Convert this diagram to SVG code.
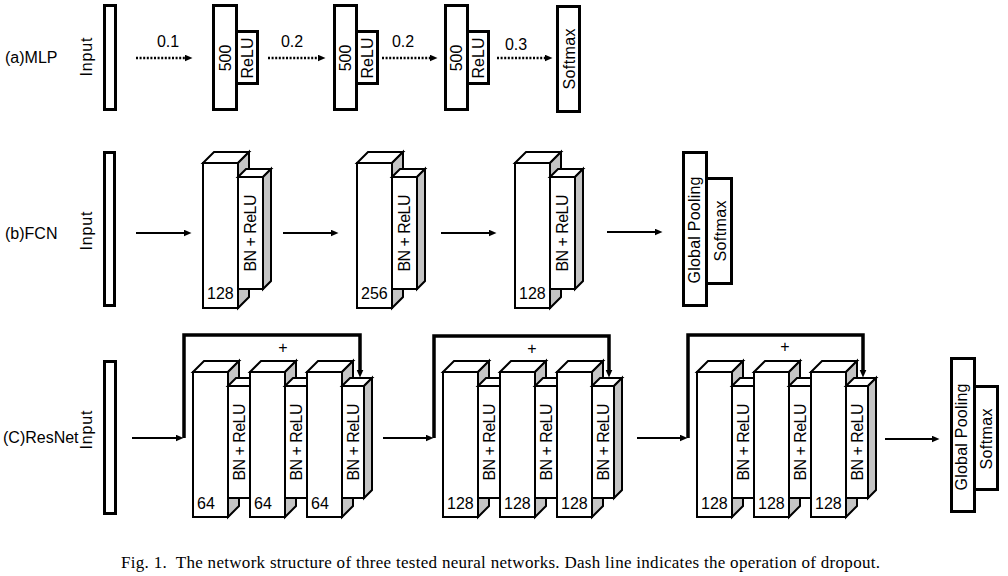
<svg xmlns="http://www.w3.org/2000/svg" xmlns:xlink="http://www.w3.org/1999/xlink" width="1008" height="576" viewBox="0 0 1008 576">
<style>
.t{font-family:"Liberation Sans",Arial,sans-serif;font-size:16px;fill:#000}
.m{text-anchor:middle}
.cap{font-family:"Liberation Serif","Times New Roman",serif;font-size:17px;fill:#000}
.box{fill:#fff;stroke:#000;stroke-width:3}
.cf{fill:#fff;stroke:#000;stroke-width:2;stroke-linejoin:miter}
.cs{fill:#c4c4c4;stroke:#000;stroke-width:2;stroke-linejoin:miter}
.ar{fill:none;stroke:#000;stroke-width:2}
.dot{fill:none;stroke:#000;stroke-width:2.5;stroke-dasharray:2 1.6}
.loop{fill:none;stroke:#000;stroke-width:3.5;stroke-linejoin:miter}
</style>
<defs>
<marker id="ah" markerUnits="userSpaceOnUse" markerWidth="10" markerHeight="8" refX="0.5" refY="3.5" orient="auto">
<path d="M0,0 L8,3.5 L0,7 Z" fill="#000"/>
</marker>
<g id="cubeMain">
<rect class="cf" x="0" y="0" width="35" height="145"/>
<polygon class="cf" points="0,0 11,-11 46,-11 35,0"/>
<polygon class="cs" points="35,0 46,-11 46,134 35,145"/>
</g>
<g id="cubeBnF">
<rect class="cf" x="0" y="0" width="25" height="112"/>
<polygon class="cf" points="0,0 8,-8 33,-8 25,0"/>
<polygon class="cs" points="25,0 33,-8 33,104 25,112"/>
</g>
<g id="cubeBnR">
<rect class="cf" x="0" y="0" width="22" height="112"/>
<polygon class="cf" points="0,0 8,-8 30,-8 22,0"/>
<polygon class="cs" points="22,0 30,-8 30,104 22,112"/>
</g>
</defs>
<rect width="1008" height="576" fill="#fff"/>

<!-- Row labels -->
<text class="t" x="5" y="63">(a)MLP</text>
<text class="t" x="5" y="239">(b)FCN</text>
<text class="t" x="3" y="443">(C)ResNet</text>

<!-- MLP -->
<g id="mlp-input">
<rect class="box" x="104.5" y="5.5" width="11" height="104"/>
<text class="t m" transform="translate(92,57) rotate(-90)" textLength="39">Input</text>
</g>
<g id="mlp-dense1">
<rect class="box" x="213.5" y="5.5" width="23" height="104"/>
<rect class="box" x="236.5" y="31.5" width="21" height="52"/>
<text class="t m" transform="translate(231,58) rotate(-90)">500</text>
<text class="t m" transform="translate(253,58) rotate(-90)">ReLU</text>
</g>
<g id="mlp-dense2">
<rect class="box" x="334.5" y="5.5" width="22" height="104"/>
<rect class="box" x="356.5" y="31.5" width="21" height="52"/>
<text class="t m" transform="translate(351,58) rotate(-90)">500</text>
<text class="t m" transform="translate(373,58) rotate(-90)">ReLU</text>
</g>
<g id="mlp-dense3">
<rect class="box" x="445.5" y="5.5" width="22" height="104"/>
<rect class="box" x="467.5" y="31.5" width="21" height="52"/>
<text class="t m" transform="translate(462,58) rotate(-90)">500</text>
<text class="t m" transform="translate(484,58) rotate(-90)">ReLU</text>
</g>
<g id="mlp-softmax">
<rect class="box" x="557.5" y="6.5" width="22" height="105"/>
<text class="t m" transform="translate(575,59) rotate(-90)" textLength="61">Softmax</text>
</g>

<!-- FCN -->
<g id="fcn-input">
<rect class="box" x="104.5" y="152.5" width="10" height="153"/>
<text class="t m" transform="translate(92,231) rotate(-90)" textLength="39">Input</text>
</g>
<g id="fcn-conv1">
<use xlink:href="#cubeMain" x="203" y="163"/>
<text class="t" x="207" y="299">128</text>
</g>
<g id="fcn-bn1">
<use xlink:href="#cubeBnF" x="238" y="177"/>
<text class="t m" transform="translate(256,233) rotate(-90)" textLength="77">BN + ReLU</text>
</g>
<g id="fcn-conv2">
<use xlink:href="#cubeMain" x="357" y="163"/>
<text class="t" x="361" y="299">256</text>
</g>
<g id="fcn-bn2">
<use xlink:href="#cubeBnF" x="392" y="177"/>
<text class="t m" transform="translate(410,233) rotate(-90)" textLength="77">BN + ReLU</text>
</g>
<g id="fcn-conv3">
<use xlink:href="#cubeMain" x="515" y="163"/>
<text class="t" x="519" y="299">128</text>
</g>
<g id="fcn-bn3">
<use xlink:href="#cubeBnF" x="550" y="177"/>
<text class="t m" transform="translate(568,233) rotate(-90)" textLength="77">BN + ReLU</text>
</g>
<g id="fcn-gp">
<rect class="box" x="683.5" y="152.5" width="23" height="153"/>
<rect class="box" x="706.5" y="178.5" width="25" height="105"/>
<text class="t m" transform="translate(700,230) rotate(-90)" textLength="107">Global Pooling</text>
<text class="t m" transform="translate(726,231) rotate(-90)" textLength="61">Softmax</text>
</g>

<!-- ResNet -->
<g id="res-input">
<rect class="box" x="104.5" y="361.5" width="11" height="152"/>
<text class="t m" transform="translate(92,430) rotate(-90)" textLength="39">Input</text>
</g>
<g id="res-block1">
<g id="res1-conv1"><use xlink:href="#cubeMain" x="193" y="372"/><text class="t" x="197" y="509">64</text></g>
<g id="res1-bn1"><use xlink:href="#cubeBnR" x="228" y="386"/><text class="t m" transform="translate(245,442) rotate(-90)" textLength="77">BN + ReLU</text></g>
<g id="res1-conv2"><use xlink:href="#cubeMain" x="250" y="372"/><text class="t" x="254" y="509">64</text></g>
<g id="res1-bn2"><use xlink:href="#cubeBnR" x="285" y="386"/><text class="t m" transform="translate(302,442) rotate(-90)" textLength="77">BN + ReLU</text></g>
<g id="res1-conv3"><use xlink:href="#cubeMain" x="307" y="372"/><text class="t" x="311" y="509">64</text></g>
<g id="res1-bn3"><use xlink:href="#cubeBnR" x="342" y="386"/><text class="t m" transform="translate(359,442) rotate(-90)" textLength="77">BN + ReLU</text></g>
</g>
<g id="res-block2" transform="translate(250,0)">
<g id="res2-conv1"><use xlink:href="#cubeMain" x="193" y="372"/><text class="t" x="197" y="509">128</text></g>
<g id="res2-bn1"><use xlink:href="#cubeBnR" x="228" y="386"/><text class="t m" transform="translate(245,442) rotate(-90)" textLength="77">BN + ReLU</text></g>
<g id="res2-conv2"><use xlink:href="#cubeMain" x="250" y="372"/><text class="t" x="254" y="509">128</text></g>
<g id="res2-bn2"><use xlink:href="#cubeBnR" x="285" y="386"/><text class="t m" transform="translate(302,442) rotate(-90)" textLength="77">BN + ReLU</text></g>
<g id="res2-conv3"><use xlink:href="#cubeMain" x="307" y="372"/><text class="t" x="311" y="509">128</text></g>
<g id="res2-bn3"><use xlink:href="#cubeBnR" x="342" y="386"/><text class="t m" transform="translate(359,442) rotate(-90)" textLength="77">BN + ReLU</text></g>
</g>
<g id="res-block3" transform="translate(504,0)">
<g id="res3-conv1"><use xlink:href="#cubeMain" x="193" y="372"/><text class="t" x="197" y="509">128</text></g>
<g id="res3-bn1"><use xlink:href="#cubeBnR" x="228" y="386"/><text class="t m" transform="translate(245,442) rotate(-90)" textLength="77">BN + ReLU</text></g>
<g id="res3-conv2"><use xlink:href="#cubeMain" x="250" y="372"/><text class="t" x="254" y="509">128</text></g>
<g id="res3-bn2"><use xlink:href="#cubeBnR" x="285" y="386"/><text class="t m" transform="translate(302,442) rotate(-90)" textLength="77">BN + ReLU</text></g>
<g id="res3-conv3"><use xlink:href="#cubeMain" x="307" y="372"/><text class="t" x="311" y="509">128</text></g>
<g id="res3-bn3"><use xlink:href="#cubeBnR" x="342" y="386"/><text class="t m" transform="translate(359,442) rotate(-90)" textLength="77">BN + ReLU</text></g>
</g>
<g id="res-gp">
<rect class="box" x="951.5" y="358.5" width="23" height="153"/>
<rect class="box" x="974.5" y="386.5" width="23" height="103"/>
<text class="t m" transform="translate(967,437) rotate(-90)" textLength="107">Global Pooling</text>
<text class="t m" transform="translate(992,439) rotate(-90)" textLength="61">Softmax</text>
</g>

<!-- Connectors -->
<g id="connectors">
<line class="dot" x1="136" y1="58" x2="185" y2="58" marker-end="url(#ah)"/>
<line class="dot" x1="268" y1="58" x2="318" y2="58" marker-end="url(#ah)"/>
<line class="dot" x1="382" y1="58" x2="430" y2="58" marker-end="url(#ah)"/>
<line class="dot" x1="497" y1="58" x2="545" y2="58" marker-end="url(#ah)"/>
<text class="t m" x="168" y="47">0.1</text>
<text class="t m" x="292" y="47">0.2</text>
<text class="t m" x="403" y="47">0.2</text>
<text class="t m" x="516" y="50">0.3</text>

<line class="ar" x1="136" y1="233" x2="184" y2="233" marker-end="url(#ah)"/>
<line class="ar" x1="283" y1="233" x2="331" y2="233" marker-end="url(#ah)"/>
<line class="ar" x1="441" y1="233" x2="489" y2="233" marker-end="url(#ah)"/>
<line class="ar" x1="607" y1="232" x2="655" y2="232" marker-end="url(#ah)"/>

<line class="ar" x1="132" y1="438" x2="176" y2="438" marker-end="url(#ah)"/>
<line class="ar" x1="383" y1="438" x2="426" y2="438" marker-end="url(#ah)"/>
<line class="ar" x1="637" y1="438" x2="680" y2="438" marker-end="url(#ah)"/>
<line class="ar" x1="885" y1="439" x2="932" y2="439" marker-end="url(#ah)"/>

<path class="loop" d="M184,438 V335 H360 V370" marker-end="url(#ah)"/>
<path class="loop" d="M434,438 V336 H609 V370" marker-end="url(#ah)"/>
<path class="loop" d="M688,438 V335 H863 V370" marker-end="url(#ah)"/>
<text class="t m" x="283" y="353">+</text>
<text class="t m" x="532" y="354">+</text>
<text class="t m" x="785" y="352">+</text>
</g>

<text class="cap" x="121" y="568" textLength="759">Fig. 1.&#160; The network structure of three tested neural networks. Dash line indicates the operation of dropout.</text>
</svg>
